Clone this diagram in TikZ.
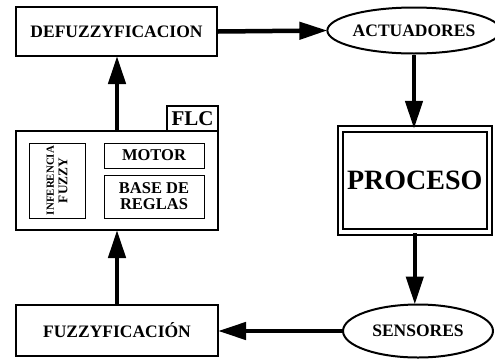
\documentclass[tikz,border=0pt]{standalone}
\usepackage{fontspec}
\setmainfont{Liberation Serif}
\usetikzlibrary{arrows.meta,shapes.geometric}
\tikzset{
  blk/.style={draw, line width=2pt, fill=white, inner sep=0pt, font=\fontsize{17.5}{19}\selectfont\bfseries},
  ell/.style={ellipse, draw, line width=2pt, fill=white, inner sep=0pt, font=\fontsize{17.5}{19}\selectfont\bfseries},
  inbox/.style={draw, line width=1pt, inner sep=0pt, align=center, font=\fontsize{16.5}{18}\selectfont\bfseries},
  arr/.style={line width=4.5pt, -{Triangle[length=28pt,width=17pt]}, shorten >=-1pt},
}
\begin{document}
\begin{tikzpicture}[x=1pt,y=-1pt]
\useasboundingbox (0,0) rectangle (495,362);
\node[blk, minimum width=201pt, minimum height=49pt] (defuzz) at (116.5,31.5) {DEFUZZYFICACION};
\node[ell, minimum width=152pt, minimum height=46pt] (act) at (414,30.5) {ACTUADORES};
\node[draw, line width=2pt, double, double distance=3.5pt, inner sep=0pt, minimum width=149pt, minimum height=103pt,
      font=\fontsize{28}{30}\selectfont\bfseries] (proc) at (414.8,180.3) {PROCESO};
\node[ell, minimum width=150pt, minimum height=53pt] (sens) at (418,331) {SENSORES};
\node[blk, minimum width=202pt, minimum height=51pt] (fuzz) at (117,330.5) {FUZZYFICACIÓN};
% FLC
\node[draw, line width=2pt, fill=white, minimum width=202pt, minimum height=99pt, inner sep=0pt] (flc) at (117,180.5) {};
\node[draw, line width=2pt, fill=white, minimum width=51pt, minimum height=25pt, inner sep=0pt,
      font=\fontsize{21}{22}\selectfont\bfseries] (flclab) at (192.5,118.5) {FLC};
\node[inbox, minimum width=56pt, minimum height=75pt] (inf) at (57,180.5) {};
\node[rotate=90, align=center, font=\bfseries, inner sep=0pt] (inftxt) at (inf.center)
  {{\fontsize{10.9}{12}\selectfont INFERENCIA}\\[1.5pt]{\fontsize{13.3}{14}\selectfont FUZZY}};
\node[inbox, minimum width=100pt, minimum height=25pt] (motor) at (154,155.5) {MOTOR};
\node[inbox, minimum width=100pt, minimum height=43pt] (base) at (154,196.5) {BASE DE\\[-2pt]REGLAS};
% arrows
\draw[arr] (flc.north) -- (flc.north |- defuzz.south);
\draw[arr] (defuzz.east) -- (act.west);
\draw[arr] (act.south) -- (act.south |- proc.north);
\draw[arr] (proc.south) -- (proc.south |- sens.north);
\draw[arr] (sens.west) -- (sens.west -| fuzz.east);
\draw[arr] (fuzz.north) -- (fuzz.north |- flc.south);
\end{tikzpicture}
\end{document}
